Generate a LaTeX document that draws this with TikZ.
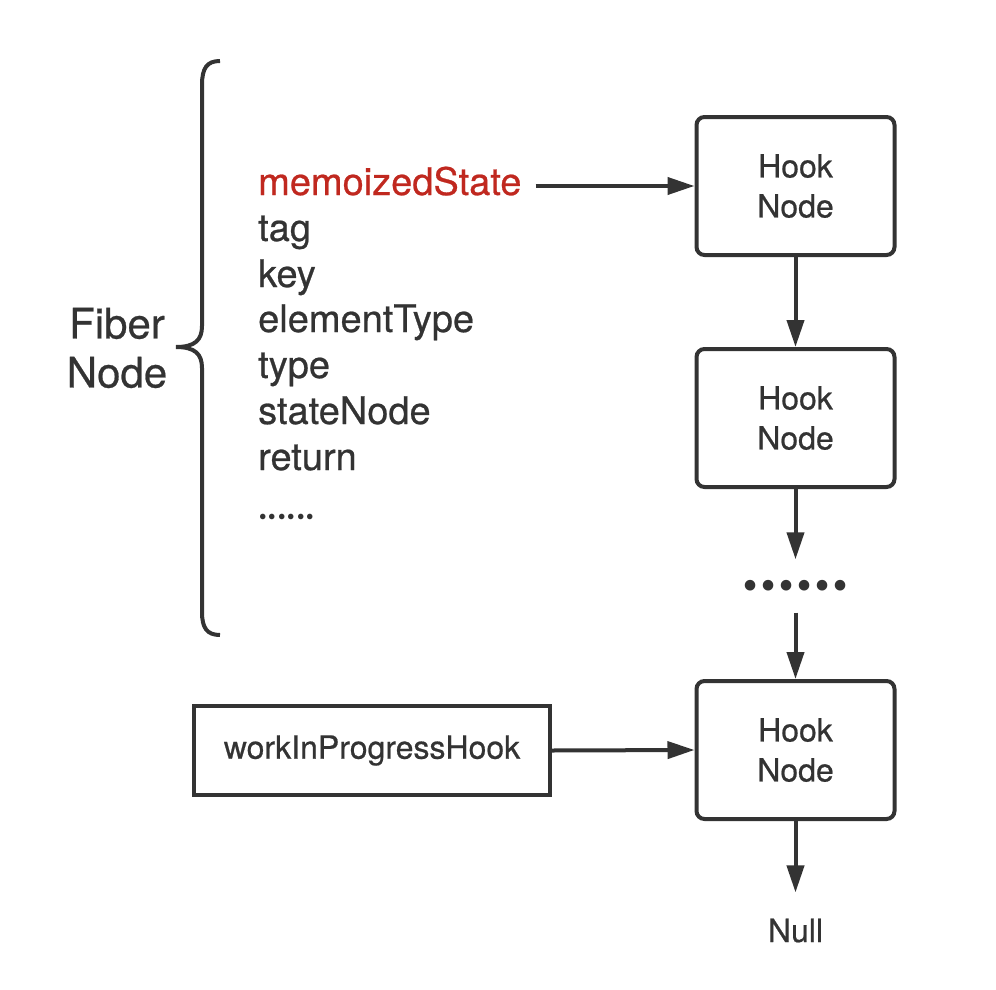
\documentclass[tikz,border=0pt]{standalone}
\usepackage{fontspec}
\setmainfont{TeX Gyre Heros}[FakeBold=0.6]
\newfontfamily\dotfont{Poppins}
\usetikzlibrary{arrows.meta}
\definecolor{ink}{HTML}{333333}
\definecolor{memred}{HTML}{C0281F}
\begin{document}
\begin{tikzpicture}[x=1pt,y=-1pt,
  hook/.style={draw=ink, line width=4pt, rounded corners=8pt, minimum width=198pt, minimum height=138pt, align=center, text=ink, font=\fontsize{32}{40}\selectfont, inner sep=0pt},
  field/.style={anchor=base west, text=ink, font=\fontsize{38}{44}\selectfont, inner sep=0pt},
  plain/.style={text=ink, font=\fontsize{32}{40}\selectfont, inner sep=0pt},
  link/.style={draw=ink, line width=4pt, -{Triangle[length=27pt,width=17pt]}},
]
\useasboundingbox (0,0) rectangle (996,990);

% brace
\draw[ink, line width=4pt] (220,61) .. controls (207,61) and (202,68) .. (202,85) -- (202,326)
  .. controls (202,340) and (195,347) .. (176,347)
  .. controls (195,347) and (202,354) .. (202,368) -- (202,612)
  .. controls (202,628) and (207,635) .. (220,635);

\node[plain, font=\fontsize{42}{49}\selectfont, align=center] (fiber) at (117,348) {Fiber\\Node};

% fields
\node[field, text=memred] (f1) at (258,195) {memoizedState};
\node[field] (f2) at (258,241) {tag};
\node[field] (f3) at (258,287) {key};
\node[field] (f4) at (258,332) {elementType};
\node[field] (f5) at (258,378) {type};
\node[field] (f6) at (258,424) {stateNode};
\node[field] (f7) at (258,470) {return};
\node[field, font=\dotfont\fontsize{45}{44}\selectfont] (f8) at (258,519) {......};

% hook nodes
\node[hook] (h1) at (795.5,186) {Hook\\Node};
\node[hook] (h2) at (795.5,418) {Hook\\Node};
\node[hook] (h3) at (795.5,750) {Hook\\Node};

\node[text=ink, inner sep=0pt, minimum height=53pt, font=\dotfont\fontsize{86}{86}\selectfont] (dots) at (795.5,586)
  {......};

\node[plain, draw=ink, line width=4pt, minimum width=356pt, minimum height=89pt] (wip) at (372,750.5) {workInProgressHook};

\node[plain, anchor=base] (null) at (795.5,942) {Null};

% connectors
\coordinate (memend) at ([xshift=14pt]f1.east);
\draw[link] (memend |- h1.west) -- (h1.west);
\draw[link] (h1.south) -- (h2.north);
\draw[link] (h2.south) -- (dots.north);
\draw[link] (dots.south) -- (h3.north);
\draw[link] (wip.east) -- (h3.west);
\draw[link, shorten >=26pt] (h3.south) -- (null.north);
\end{tikzpicture}
\end{document}
